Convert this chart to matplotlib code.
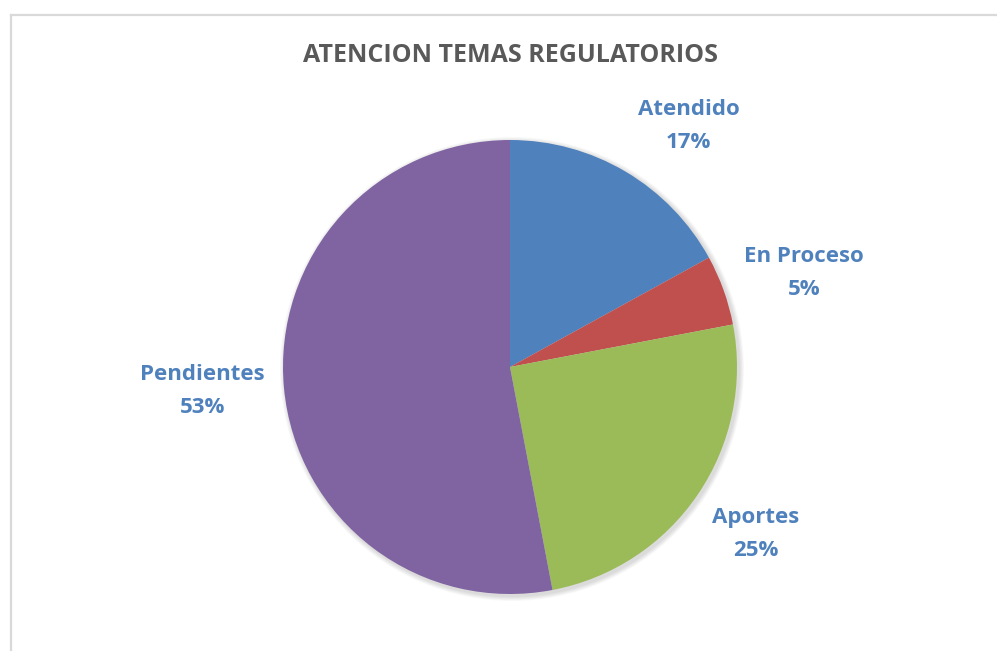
import numpy as np
import matplotlib
matplotlib.use("Agg")
import matplotlib.pyplot as plt
from matplotlib.lines import Line2D

categories = ["Atendido", "En Proceso", "Aportes", "Pendientes"]
values = [17, 5, 25, 53]
colors = ["#4F81BD", "#C0504D", "#9BBB59", "#8064A2"]
title = "ATENCION TEMAS REGULATORIOS"

W, H = 997, 651
fig = plt.figure(figsize=(W / 100, H / 100), dpi=100)
ax = fig.add_axes([0, 0, 1, 1])

# chart area border (left + top only visible)
fig.add_artist(Line2D([10.5 / W, 10.5 / W], [0, 1 - 14.5 / H], color="#d9d9d9", lw=1.6))
fig.add_artist(Line2D([10.5 / W, 1], [1 - 14.5 / H, 1 - 14.5 / H], color="#d9d9d9", lw=1.6))

cx, cy, r = 510, H - 367, 227

# soft shadow
for k in range(6):
    sh = plt.Circle((cx + 2, cy - 2), r + 1 + k * 0.8, color="black", alpha=0.025, lw=0)
    ax.add_patch(sh)

wedges, _ = ax.pie(values, colors=colors, startangle=90, counterclock=False,
                   center=(cx, cy), radius=r, frame=True,
                   wedgeprops=dict(edgecolor="none"))
ax.set_xlim(0, W)
ax.set_ylim(0, H)
ax.set_aspect("equal")
ax.axis("off")

# label offsets (distance factor, angle tweak) to mimic best-fit placement
dist = [1.32, 1.36, 1.31, 1.36]
tweak = [-6, -2, 0, -1]
for w, name, v, d, t in zip(wedges, categories, values, dist, tweak):
    ang = np.deg2rad((w.theta1 + w.theta2) / 2 + t)
    x = cx + d * r * np.cos(ang)
    y = cy + d * r * np.sin(ang)
    ax.text(x, y, f"{name}\n{v}%", ha="center", va="center", color="#4F81BD",
            fontsize=16, fontweight="bold", family="Open Sans", linespacing=1.75)

fig.text(510 / W, 1 - 55 / H, title, ha="center", va="center", color="#595959",
         fontsize=18, fontweight="bold", family="Open Sans")

fig.savefig("out.png", dpi=100, facecolor="white")
